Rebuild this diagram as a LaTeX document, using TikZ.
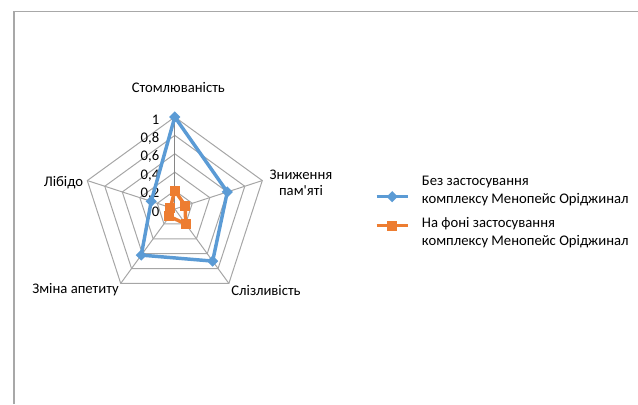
\documentclass[tikz,border=0pt]{standalone}
\usepackage{fontspec}
\setmainfont{Carlito}[Ligatures=TeXOff]
\usepackage{tikz}
\usetikzlibrary{calc}
\usetikzlibrary{shapes.geometric}
\definecolor{serblue}{HTML}{5B9BD5}
\definecolor{serorange}{HTML}{ED7D31}
\definecolor{gridgray}{HTML}{A6A6A6}
\definecolor{axisgray}{HTML}{868686}
\definecolor{framegray}{HTML}{A8A8A8}

\begin{document}
\begin{tikzpicture}[x=0.75pt,y=0.75pt,
    gridline/.style={gridgray,line width=0.75pt},
    seriesA/.style={serblue,line width=2.6pt,line join=round},
    seriesB/.style={serorange,line width=2.6pt,line join=round},
    bluemark/.style={diamond,fill=serblue,inner sep=0pt,minimum size=8.5pt},
    orangemark/.style={rectangle,fill=serorange,inner sep=0pt,minimum size=7.5pt},
    catlabel/.style={font=\fontsize{11}{12}\selectfont,inner sep=0pt},
    ticklabel/.style={font=\fontsize{11}{12}\selectfont,inner sep=0pt,anchor=east},
    legtext/.style={font=\fontsize{11}{13}\selectfont,inner sep=0pt,anchor=west,align=left}]
    \useasboundingbox (-174.8,-195) rectangle (463.2,209);
    % chart frame
    \draw[framegray,line width=1.1pt] (-160.8,-195) -- (-160.8,197.5) -- (463.2,197.5);

    % grid: rings and spokes
    \foreach \r in {18.4,36.8,55.2,73.6,92}
      \draw[gridline] (90:\r) -- (18:\r) -- (-54:\r) -- (-126:\r) -- (162:\r) -- cycle;
    \foreach \a in {18,-54,-126,162}
      \draw[gridline] (0,0) -- (\a:92);
    \draw[axisgray,line width=0.75pt] (0,0) -- (90:92);

    % value axis
    \foreach \v/\t in {0/0,1/{0,2},2/{0,4},3/{0,6},4/{0,8},5/1}
      \node[ticklabel] (tick\v) at (-15.3,18.4*\v-3) {\t};

    % categories
    \node[catlabel] (stoml) at (3.5,121.7) {Стомлюваність};
    \node[catlabel,align=center] (pamyat) at (126.2,26) {Зниження\\пам'яті};
    \node[catlabel] (slizl) at (91.2,-82) {Слізливість};
    \node[catlabel] (apetyt) at (-99.3,-81) {Зміна апетиту};
    \node[catlabel] (libido) at (-111.3,26) {Лібідо};

    % series 1
    \foreach \a/\r [count=\i] in {90/92,18/55.2,-54/64.4,-126/57,162/24.8}
      \coordinate (b\i) at (\a:\r);
    \draw[seriesA] (b1) -- (b2) -- (b3) -- (b4) -- (b5) -- cycle;
    \foreach \i in {1,...,5}
      \node[bluemark] (bm\i) at (b\i) {};

    % series 2
    \foreach \a/\r [count=\i] in {90/18.4,18/11,-54/18.4,-126/9.2,162/4.6}
      \coordinate (o\i) at (\a:\r);
    \draw[seriesB] (o1) -- (o2) -- (o3) -- (o4) -- (o5) -- cycle;
    \foreach \i in {1,...,5}
      \node[orangemark] (om\i) at (o\i) {};

    % legend
    \coordinate (legA1) at (201.9,12.3);
    \coordinate (legA2) at (232.9,12.3);
    \draw[seriesA] (legA1) -- (legA2);
    \node[bluemark] (legAm) at ($(legA1)!0.5!(legA2)$) {};
    \node[legtext] (legAtxt) at (246.9,18) {Без застосування\\комплексу Менопейс Оріджинал};
    \coordinate (legB1) at (201.9,-16.7);
    \coordinate (legB2) at (232.9,-16.7);
    \draw[seriesB] (legB1) -- (legB2);
    \node[orangemark] (legBm) at ($(legB1)!0.5!(legB2)$) {};
    \node[legtext] (legBtxt) at (246.9,-23.5) {На фоні застосування\\комплексу Менопейс Оріджинал};
\end{tikzpicture}
\end{document}
